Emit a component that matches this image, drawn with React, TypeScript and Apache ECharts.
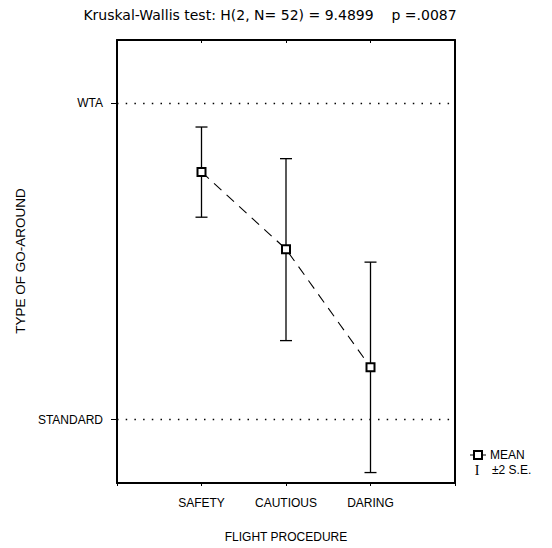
import React, { useEffect, useRef } from "react";
import * as echarts from "echarts";

const categories = ["SAFETY", "CAUTIOUS", "DARING"];
const means = [0.783, 0.539, 0.166];
const errLow = [0.64, 0.25, -0.167];
const errHigh = [0.925, 0.825, 0.498];
const yLabels: Record<number, string> = { 0: "STANDARD", 1: "WTA" };
const titleText = "Kruskal-Wallis test: H(2, N= 52) = 9.4899    p =.0087";

const FONT = "Liberation Sans, Arial, sans-serif";

export default function App() {
  const ref = useRef<HTMLDivElement>(null);
  useEffect(() => {
    if (!ref.current) return;
    const chart = echarts.init(ref.current, undefined, { renderer: "svg" });
    const lineData = means.map((m, i) => [i + 1, m]);
    const errData = categories.map((_, i) => [i + 1, errLow[i], errHigh[i]]);
    const axisLine = { show: true, onZero: false, lineStyle: { color: "#000", width: 2 } };
    chart.setOption({
      animation: false,
      backgroundColor: "#fff",
      textStyle: { fontFamily: FONT, color: "#000" },
      grid: { left: 117, right: 97, top: 40, bottom: 65, show: false },
      xAxis: [
        {
          type: "value",
          min: 0,
          max: 4,
          interval: 1,
          position: "bottom",
          axisLine,
          axisTick: { show: true, length: 3, lineStyle: { color: "#000" } },
          axisLabel: {
            color: "#000",
            fontSize: 12,
            fontFamily: FONT,
            margin: 14,
            formatter: (v: number) => categories[v - 1] ?? "",
          },
          splitLine: { show: false },
          name: "FLIGHT PROCEDURE",
          nameLocation: "middle",
          nameGap: 48,
          nameTextStyle: { color: "#000", fontSize: 12, fontFamily: FONT },
        },
        {
          type: "value",
          min: 0,
          max: 4,
          interval: 1,
          position: "top",
          axisLine,
          axisTick: { show: true, inside: true, length: 3, lineStyle: { color: "#000" } },
          axisLabel: { show: false },
          splitLine: { show: false },
        },
      ],
      yAxis: [
        {
          type: "value",
          min: -0.2,
          max: 1.2,
          position: "left",
          axisLine,
          axisTick: {
            show: true,
            length: 6,
            customValues: [0, 1],
            lineStyle: { color: "#000" },
          },
          axisLabel: {
            color: "#000",
            fontSize: 12,
            fontFamily: FONT,
            margin: 14,
            customValues: [0, 1],
            formatter: (v: number) => yLabels[Math.round(v)] ?? "",
          },
          splitLine: { show: false },
        },
        {
          type: "value",
          min: -0.2,
          max: 1.2,
          position: "right",
          axisLine,
          axisTick: { show: false },
          axisLabel: { show: false },
          splitLine: { show: false },
        },
      ],
      graphic: [
        {
          type: "text",
          x: 270,
          y: 15,
          style: {
            text: titleText,
            fontSize: 14,
            fontFamily: "DejaVu Sans, sans-serif",
            fill: "#000",
            align: "center",
            verticalAlign: "middle",
          },
        },
        {
          type: "text",
          x: 20,
          y: 261,
          rotation: Math.PI / 2,
          style: {
            text: "TYPE OF GO-AROUND",
            fontSize: 13.5,
            fontFamily: FONT,
            fill: "#000",
            align: "center",
            verticalAlign: "middle",
          },
        },
        {
          type: "line",
          shape: { x1: 470, y1: 455, x2: 486, y2: 455 },
          style: { stroke: "#000", lineWidth: 1 },
        },
        {
          type: "rect",
          shape: { x: 474, y: 451, width: 8, height: 8 },
          style: { fill: "#fff", stroke: "#000", lineWidth: 2 },
        },
        {
          type: "text",
          x: 490,
          y: 455,
          style: {
            text: "MEAN",
            fontSize: 12,
            fontFamily: FONT,
            fill: "#000",
            verticalAlign: "middle",
          },
        },
        {
          type: "text",
          x: 477,
          y: 470,
          style: {
            text: "I",
            fontSize: 14,
            fontFamily: "Liberation Serif, serif",
            fill: "#000",
            align: "center",
            verticalAlign: "middle",
          },
        },
        {
          type: "text",
          x: 492,
          y: 470,
          style: {
            text: "±2 S.E.",
            fontSize: 12,
            fontFamily: FONT,
            fill: "#000",
            verticalAlign: "middle",
          },
        },
      ],
      series: [
        {
          type: "custom",
          xAxisIndex: 0,
          yAxisIndex: 0,
          data: errData,
          z: 2,
          renderItem: (params: any, api: any) => {
            const x = api.value(0);
            const lo = api.coord([x, api.value(1)]);
            const hi = api.coord([x, api.value(2)]);
            const w = 6;
            const st = { stroke: "#000", lineWidth: 1.3 };
            return {
              type: "group",
              children: [
                { type: "line", shape: { x1: lo[0], y1: lo[1], x2: hi[0], y2: hi[1] }, style: st },
                { type: "line", shape: { x1: lo[0] - w, y1: lo[1], x2: lo[0] + w, y2: lo[1] }, style: st },
                { type: "line", shape: { x1: hi[0] - w, y1: hi[1], x2: hi[0] + w, y2: hi[1] }, style: st },
              ],
            };
          },
        },
        {
          type: "line",
          xAxisIndex: 0,
          yAxisIndex: 0,
          data: lineData,
          z: 3,
          symbol: "rect",
          symbolSize: 8,
          lineStyle: { color: "#000", width: 1.1, type: [10, 7] },
          itemStyle: { color: "#fff", borderColor: "#000", borderWidth: 2 },
          markLine: {
            silent: true,
            symbol: ["none", "none"],
            label: { show: false },
            lineStyle: { color: "#000", width: 1.3, type: [1.5, 7.2] },
            data: [{ yAxis: 0 }, { yAxis: 1 }],
          },
        },
      ],
    });
    return () => chart.dispose();
  }, []);
  return <div ref={ref} style={{ width: 552, height: 548, position: "absolute", left: 0, top: 0 }} />;
}
